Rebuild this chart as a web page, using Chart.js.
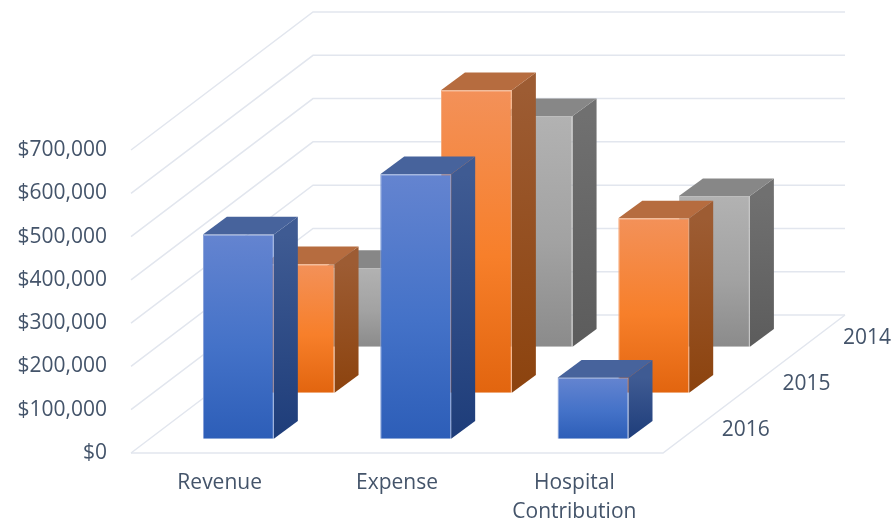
<!DOCTYPE html>
<html>
<head>
<meta charset="utf-8">
<title>Revenue, Expense and Hospital Contribution</title>
<script src="https://cdn.jsdelivr.net/npm/chart.js@4/dist/chart.umd.min.js"></script>
<style>
    html, body { margin: 0; padding: 0; background: #fff; }
    #wrap { width: 894px; height: 524px; }
    /* the reference is a soft, scaled-up picture */
    #chart { filter: blur(0.45px); }
</style>
</head>
<body>
<div id="wrap"><canvas id="chart"></canvas></div>
<script>
// Data
const categories = ['Revenue', 'Expense', ['Hospital', 'Contribution']];
const seriesNames = ['2016', '2015', '2014'];
const values2016 = [472000, 611000, 141000];
const values2015 = [297000, 699000, 403000];
const values2014 = [182000, 533000, 348000];

// Fake 3D settings
const firstOffset = { x: 18.7, y: -14.3 };
const seriesStep = { x: 60.7, y: -46 };
const barDepth = { x: 24, y: -17.6 };
const wallDepth = { x: 182, y: -138 };
const gridColor = '#e2e6ee';
const textColor = '#44546a';
const fontFamily = '"Open Sans", "Noto Sans", sans-serif';

// One palette per series: front, side and top faces
const palettes = [
    { front: ['#6484d0', '#4472c8', '#2d5eb8'], side: ['#3f5b93', '#1e3d7a'], top: '#47639c', edge: '#86a0d8' },
    { front: ['#f39159', '#f77f2a', '#e2650f'], side: ['#9d5c33', '#8c430e'], top: '#b66c3f', edge: '#f5a878' },
    { front: ['#b2b2b2', '#a2a2a2', '#8b8b8b'], side: ['#707070', '#5c5c5c'], top: '#878787', edge: '#bdbdbd' }
];

function seriesOffset(index) {
    return {
        x: firstOffset.x + seriesStep.x * index,
        y: firstOffset.y + seriesStep.y * index
    };
}

// Vertical gradient that runs over the height of one bar
function frontGradient(context) {
    const chart = context.chart;
    if (!chart.chartArea || context.parsed === undefined) return palettes[context.datasetIndex].front[1];
    const yScale = chart.scales.y;
    const stops = palettes[context.datasetIndex].front;
    const gradient = chart.ctx.createLinearGradient(0, yScale.getPixelForValue(context.parsed.y), 0, yScale.getPixelForValue(0));
    gradient.addColorStop(0, stops[0]);
    gradient.addColorStop(0.55, stops[1]);
    gradient.addColorStop(1, stops[2]);
    return gradient;
}

// Side and top faces of the bars, with the shift of each series
const depthPlugin = {
    id: 'depth',
    beforeDatasetDraw(chart, args) {
        const ctx = chart.ctx;
        const offset = seriesOffset(args.index);
        const palette = palettes[args.index];
        ctx.save();
        ctx.translate(offset.x, offset.y);
        args.meta.data.forEach(bar => {
            const right = bar.x + bar.width / 2;
            const left = bar.x - bar.width / 2;

            const sideGradient = ctx.createLinearGradient(0, bar.y, 0, bar.base);
            sideGradient.addColorStop(0, palette.side[0]);
            sideGradient.addColorStop(1, palette.side[1]);
            ctx.fillStyle = sideGradient;
            ctx.beginPath();
            ctx.moveTo(right, bar.y);
            ctx.lineTo(right + barDepth.x, bar.y + barDepth.y);
            ctx.lineTo(right + barDepth.x, bar.base + barDepth.y);
            ctx.lineTo(right, bar.base);
            ctx.closePath();
            ctx.fill();

            ctx.fillStyle = palette.top;
            ctx.beginPath();
            ctx.moveTo(left, bar.y);
            ctx.lineTo(left + barDepth.x, bar.y + barDepth.y);
            ctx.lineTo(right + barDepth.x, bar.y + barDepth.y);
            ctx.lineTo(right, bar.y);
            ctx.closePath();
            ctx.fill();
        });
    },
    afterDatasetDraw(chart) {
        chart.ctx.restore();
    }
};

// Side wall, back wall and floor, plus the series names on the right
const wallsPlugin = {
    id: 'walls',
    beforeDatasetsDraw(chart) {
        const ctx = chart.ctx;
        const yScale = chart.scales.y;
        const area = chart.chartArea;
        ctx.save();
        ctx.strokeStyle = gridColor;
        ctx.lineWidth = 1.5;
        yScale.ticks.forEach(tick => {
            const y = yScale.getPixelForValue(tick.value);
            ctx.beginPath();
            ctx.moveTo(area.left, y);
            ctx.lineTo(area.left + wallDepth.x, y + wallDepth.y);
            ctx.lineTo(area.right + wallDepth.x, y + wallDepth.y);
            ctx.stroke();
        });
        // Floor
        const floor = yScale.getPixelForValue(0);
        ctx.beginPath();
        ctx.moveTo(area.left, floor);
        ctx.lineTo(area.right, floor);
        ctx.lineTo(area.right + wallDepth.x, floor + wallDepth.y);
        ctx.stroke();

        // Series names
        ctx.fillStyle = textColor;
        ctx.font = '21px ' + fontFamily;
        ctx.textAlign = 'center';
        ctx.textBaseline = 'middle';
        chart.data.datasets.forEach((dataset, i) => {
            const offset = seriesOffset(i);
            ctx.fillText(dataset.label, area.right + 64 + offset.x, floor - 9 + offset.y);
        });
        ctx.restore();
    }
};

const chartCtx = document.getElementById('chart').getContext('2d');
const allValues = [values2016, values2015, values2014];

new Chart(chartCtx, {
    type: 'bar',
    data: {
        labels: categories,
        datasets: seriesNames.map((name, i) => ({
            label: name,
            data: allValues[i],
            grouped: false,
            clip: false,
            barPercentage: 0.4,
            categoryPercentage: 1,
            backgroundColor: frontGradient,
            borderColor: palettes[i].edge,
            borderWidth: 1
        }))
    },
    options: {
        responsive: true,
        maintainAspectRatio: false,
        animation: false,
        layout: {
            padding: { top: 150, right: 231, left: 0, bottom: 0 }
        },
        plugins: {
            legend: { display: false },
            title: { display: false },
            tooltip: { enabled: false }
        },
        scales: {
            x: {
                grid: { display: false },
                border: { display: false },
                afterFit: scale => { scale.height = 71; },
                ticks: {
                    color: textColor,
                    font: { family: fontFamily, size: 21, lineHeight: 1.4 },
                    padding: 7,
                    autoSkip: false,
                    maxRotation: 0
                }
            },
            y: {
                min: 0,
                max: 700000,
                grid: { display: false },
                border: { display: false },
                afterFit: scale => { scale.width = 131; },
                ticks: {
                    stepSize: 100000,
                    color: textColor,
                    font: { family: fontFamily, size: 21 },
                    padding: 16,
                    callback: value => '$' + value.toLocaleString('en-US')
                }
            }
        }
    },
    plugins: [wallsPlugin, depthPlugin]
});
</script>
</body>
</html>
